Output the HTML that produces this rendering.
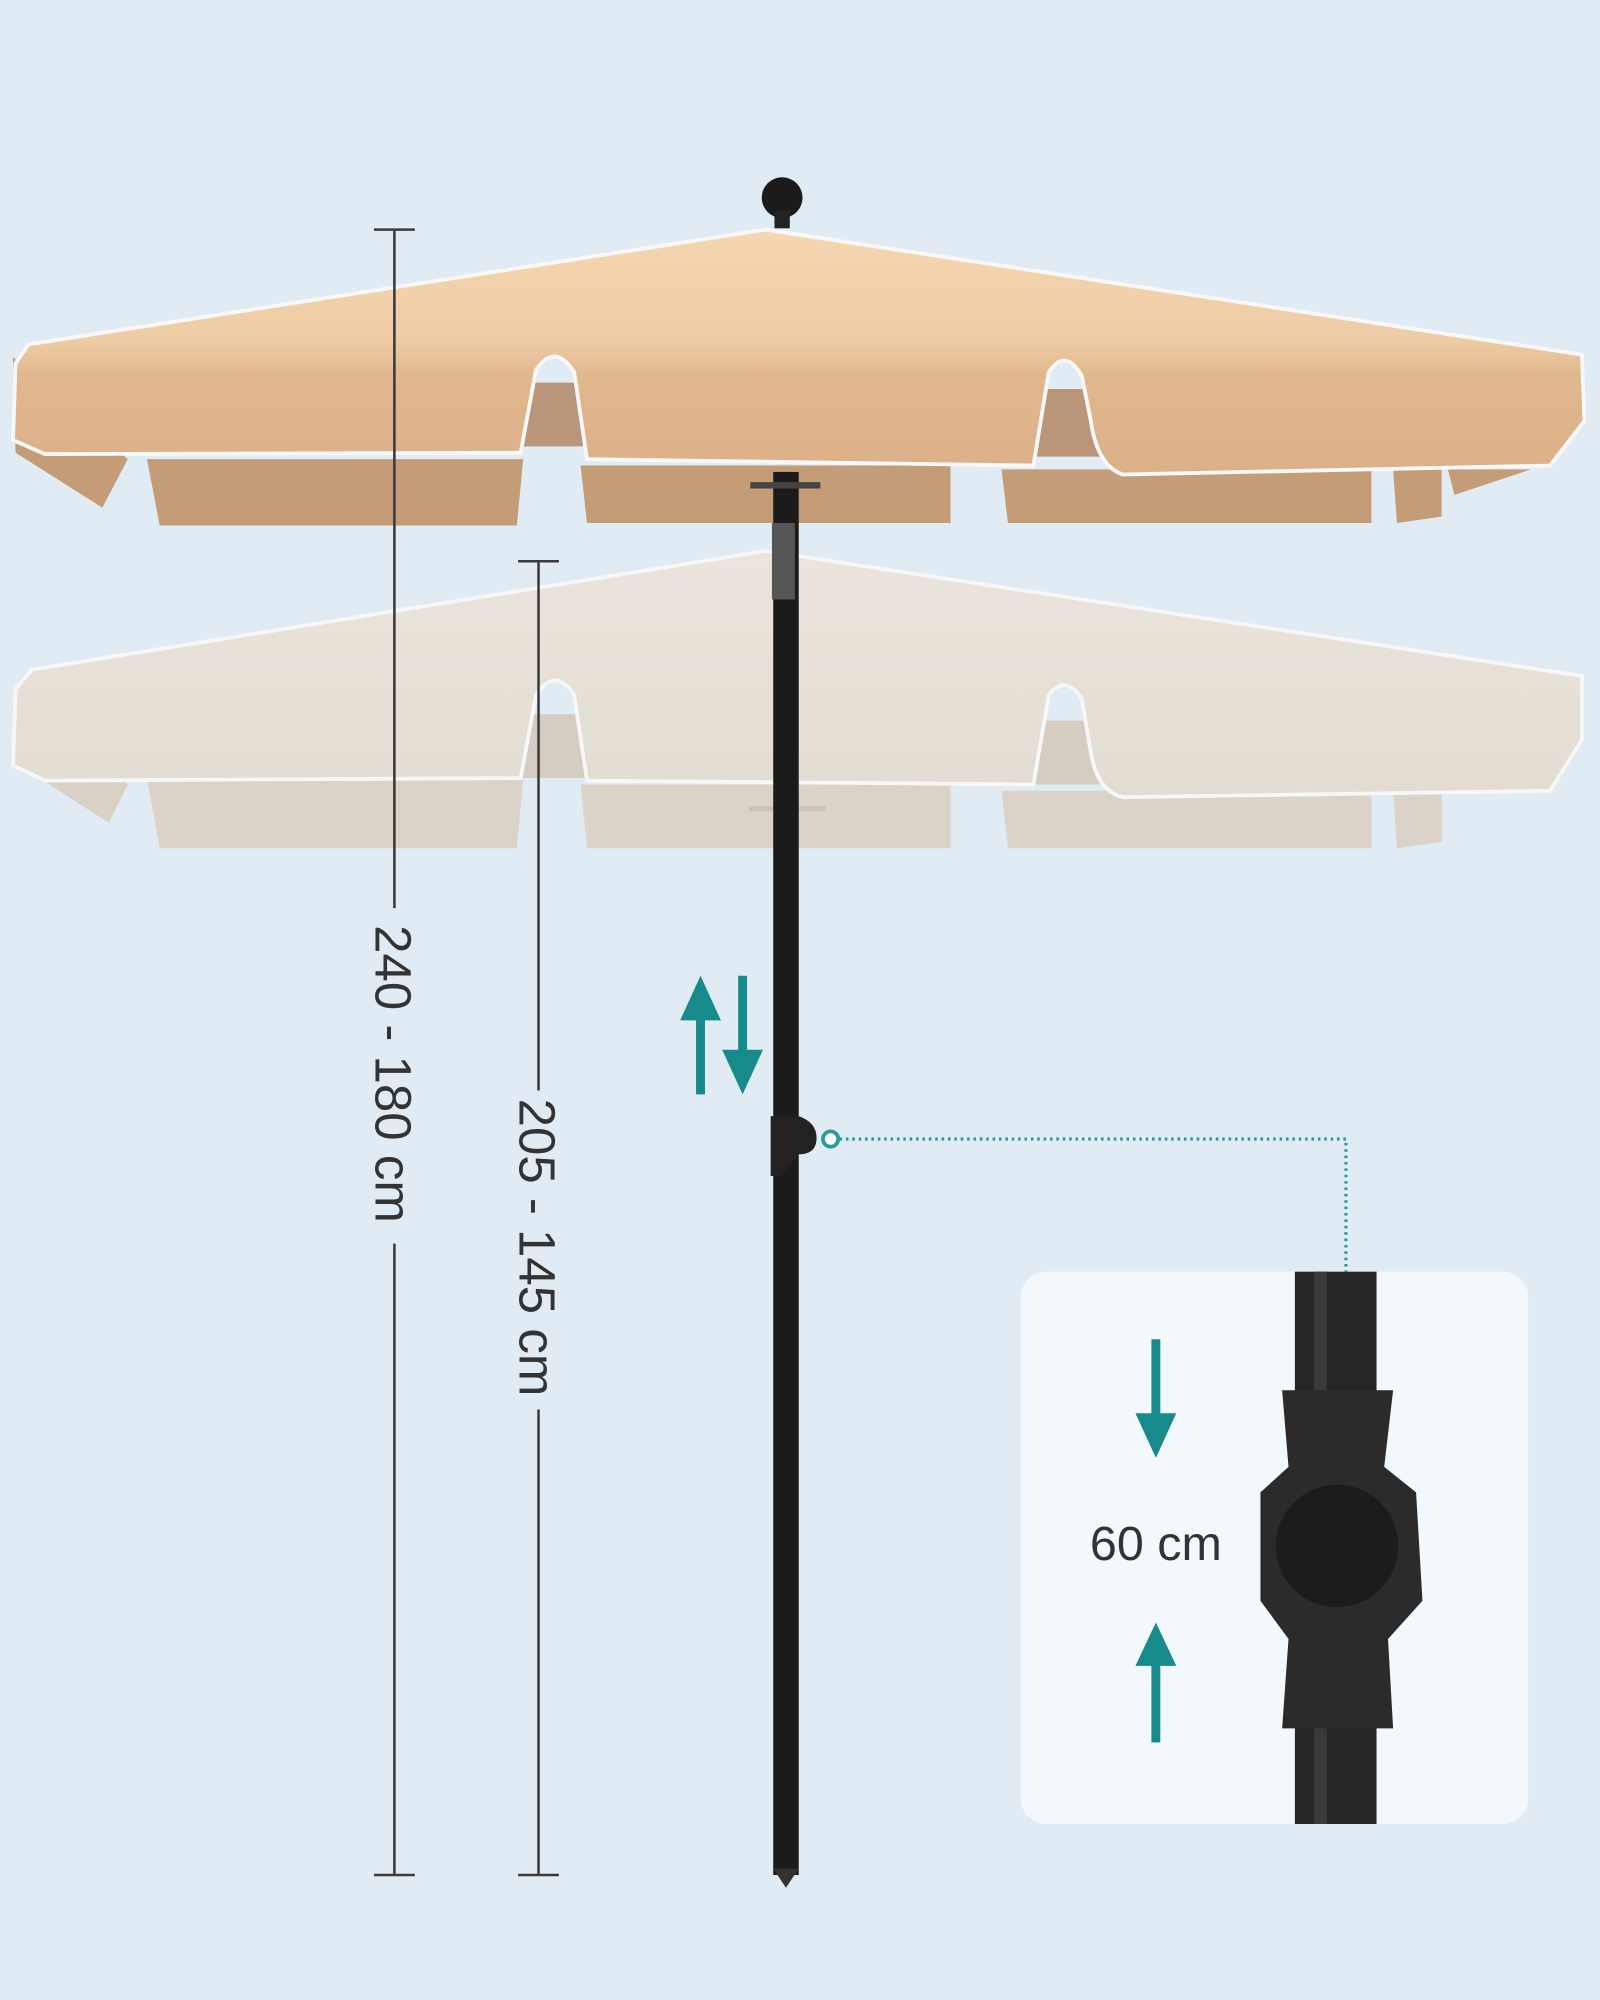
<!DOCTYPE html>
<html><head><style>html,body{margin:0;padding:0;background:#e1ebf3}svg{display:block}</style></head>
<body>
<svg width="1600" height="2000" viewBox="0 0 1254 1568" xmlns="http://www.w3.org/2000/svg" font-family="Liberation Sans, sans-serif">
<defs>
<linearGradient id="cg" x1="0" y1="0" x2="0" y2="1">
<stop offset="0" stop-color="#f6d6b0"/><stop offset="0.45" stop-color="#eecca5"/><stop offset="0.6" stop-color="#e0b78e"/><stop offset="1" stop-color="#dcb088"/></linearGradient>
<linearGradient id="lg" x1="0" y1="0" x2="0" y2="1">
<stop offset="0" stop-color="#ebe4dc"/><stop offset="1" stop-color="#e2dcd2"/></linearGradient>
</defs>
<rect width="1254" height="1568" fill="#e1ebf3"/>

<!-- lower faded canopy -->
<path d="M115 610 L410 610 L405 665 L125 665 Z M455 615 L745 615 L745 665 L460 665 Z M785 620 L1075 620 L1075 665 L790 665 Z M1092 620 L1130 620 L1130 660 L1095 665 Z" fill="#dcd3c8"/>
<path d="M12 540 L15 600 L85 645 L100 615 Z" fill="#d9d1c6"/>
<path d="M418 560 L455 560 L458 610 L408 610 Z M818 565 L855 565 L865 615 L810 615 Z" fill="#d6cdc2"/>
<path d="M25 525 L600 432 L1240 530 L1240 580 L1215 620 L880 625 Q860 620 855 590 L848 548 Q835 528 822 545 L810 615 L460 612 L450 545 Q435 522 420 545 L408 610 L35 612 L10 600 L12 540 Z" fill="url(#lg)" stroke="#f7f7f7" stroke-width="3"/>
<rect x="587" y="632" width="60" height="4" fill="#c9c3bb"/>

<!-- upper canopy flaps -->
<path d="M115 360 L410 360 L405 412 L125 412 Z M455 365 L745 365 L745 410 L460 410 Z M785 368 L1075 368 L1075 410 L790 410 Z M1092 368 L1130 368 L1130 405 L1095 410 Z M1135 368 L1200 368 L1140 388 Z" fill="#c49c77"/>
<path d="M10 280 L12 355 L80 398 L100 360 Z" fill="#c49c77"/>
<path d="M415 300 L455 300 L458 350 L408 350 Z M815 305 L858 305 L865 358 L808 358 Z" fill="#b9967a"/>
<path d="M22 270 L600 180 L1240 278 L1242 330 L1215 365 L880 372 Q860 365 855 330 L848 295 Q835 272 822 292 L810 365 L460 360 L450 292 Q435 268 420 290 L408 355 L35 356 L10 345 L12 285 Z" fill="url(#cg)" stroke="#f8f8f8" stroke-width="3"/>

<!-- pole -->
<rect x="606" y="370" width="20" height="1100" fill="#1b1b1b"/>
<rect x="605" y="410" width="18" height="60" fill="#555"/>
<path d="M606 1465 L626 1465 L616 1480 Z" fill="#333"/>
<rect x="588" y="378" width="55" height="5" fill="#444"/>
<circle cx="613" cy="155" r="16" fill="#1b1b1b"/>
<rect x="607" y="165" width="12" height="14" fill="#222"/>
<path d="M604 875 L626 875 Q640 880 640 892 Q640 905 626 905 L612 922 L604 922 Z" fill="#222"/>

<!-- dimension lines -->
<g stroke="#3a3a3a" stroke-width="2">
<line x1="309" y1="180" x2="309" y2="712"/><line x1="309" y1="975" x2="309" y2="1470"/>
<line x1="293" y1="180" x2="325" y2="180"/><line x1="293" y1="1470" x2="325" y2="1470"/>
<line x1="422" y1="440" x2="422" y2="855"/><line x1="422" y1="1105" x2="422" y2="1470"/>
<line x1="406" y1="440" x2="438" y2="440"/><line x1="406" y1="1470" x2="438" y2="1470"/>
</g>
<text transform="translate(294,842) rotate(90)" text-anchor="middle" font-size="40" fill="#333">240 - 180 cm</text>
<text transform="translate(407,978) rotate(90)" text-anchor="middle" font-size="40" fill="#333">205 - 145 cm</text>

<!-- teal arrows -->
<g fill="#178b8b" stroke="#178b8b">
<line x1="549" y1="790" x2="549" y2="858" stroke-width="7"/><path d="M533 800 L549 765 L565 800 Z" stroke="none"/>
<line x1="582" y1="765" x2="582" y2="832" stroke-width="7"/><path d="M566 823 L582 858 L598 823 Z" stroke="none"/>
</g>
<circle cx="651" cy="893" r="6" fill="#fff" stroke="#2a9a9a" stroke-width="3"/>
<path d="M658 893 L1055 893 L1055 997" fill="none" stroke="#2a9a9a" stroke-width="2.5" stroke-dasharray="2 3"/>

<!-- inset -->
<rect x="800" y="997" width="398" height="433" rx="20" fill="#f3f8fc"/>
<rect x="1015" y="997" width="64" height="433" fill="#262626"/>
<rect x="1030" y="997" width="10" height="433" fill="#3a3a3a"/>
<path d="M1005 1090 L1092 1090 L1085 1150 L1110 1170 L1115 1255 L1088 1285 L1092 1355 L1005 1355 L1010 1285 L988 1255 L988 1170 L1010 1150 Z" fill="#2b2b2b"/>
<circle cx="1048" cy="1212" r="48" fill="#1c1c1c"/>
<text x="906" y="1223" text-anchor="middle" font-size="38" fill="#333">60 cm</text>
<g fill="#178b8b" stroke="#178b8b">
<line x1="906" y1="1050" x2="906" y2="1115" stroke-width="7"/><path d="M890 1108 L906 1143 L922 1108 Z" stroke="none"/>
<line x1="906" y1="1300" x2="906" y2="1366" stroke-width="7"/><path d="M890 1306 L906 1272 L922 1306 Z" stroke="none"/>
</g>
</svg>
</body></html>
